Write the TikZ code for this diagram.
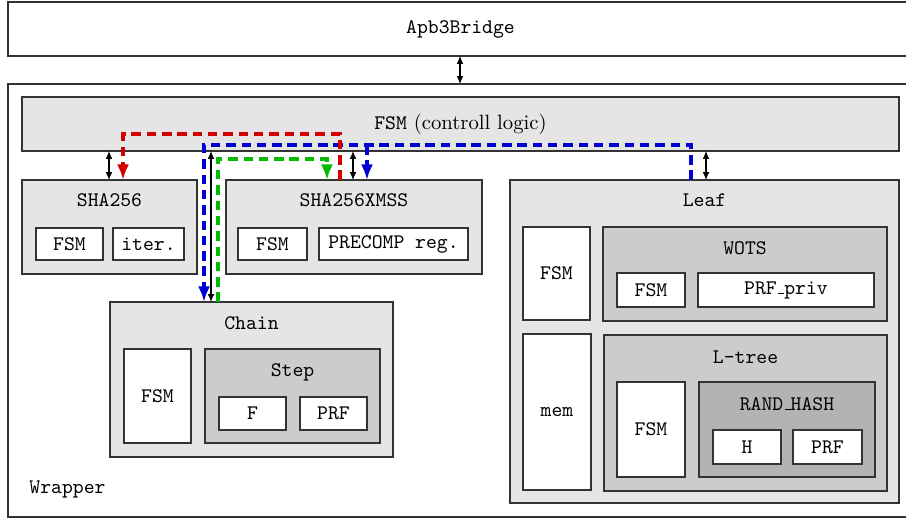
\documentclass[tikz,border=0pt]{standalone}
\usetikzlibrary{arrows.meta}
\definecolor{lvA}{HTML}{E5E5E5}
\definecolor{lvB}{HTML}{CCCCCC}
\definecolor{lvC}{HTML}{B3B3B3}
\definecolor{edgec}{HTML}{333333}
\definecolor{cred}{HTML}{D40000}
\definecolor{cblue}{HTML}{0000D0}
\definecolor{cgreen}{HTML}{00BB00}
\newcommand\drawblk[7]{\node[#1, minimum width={(#4-#2)*0.483pt}, minimum height={(#5-#3)*0.483pt}] (#6) at ({(#2+#4)/2},{(#3+#5)/2}) {#7};}
\newcommand\lowbar{\leavevmode\kern.06em\vbox{\hrule width.3em height .5pt}}
\tikzset{
  base/.style={draw=edgec, line width=0.6pt, rectangle, inner sep=0pt, outer sep=0pt, font=\ttfamily},
  wbox/.style={base, fill=white},
  gA/.style={base, fill=lvA},
  gB/.style={base, fill=lvB},
  gC/.style={base, fill=lvC},
  ttl/.style={font=\ttfamily, inner sep=0pt, anchor=base},
  dbl/.style={{Latex[length=3.8pt,width=3.2pt]}-{Latex[length=3.8pt,width=3.2pt]}, line width=0.5pt, black},
  sig/.style={line width=1.5pt, dash pattern=on 4.6pt off 2.8pt},
  sigarr/.style={sig, -{Latex[length=7.5pt,width=5.8pt]}}
}
\begin{document}
\begin{tikzpicture}[x=0.483pt, y=-0.483pt]
\useasboundingbox (0,0) rectangle (906,519);
% outer boxes
\drawblk{wbox}{8}{2}{913}{56}{apb}{Apb3Bridge}
\drawblk{wbox}{8}{84}{913}{517}{wrap}{}
\node[ttl, anchor=base west] (wraplbl) at (29,493) {Wrapper};
\drawblk{gA, font=\rmfamily}{22}{97}{899}{151}{fsm}{\texttt{FSM} (controll logic)}
% SHA256
\drawblk{gA}{22}{180}{197}{274}{sha}{}
\node[ttl] (shaT) at (109.5,206.5) {SHA256};
\drawblk{wbox}{36}{228}{103}{260}{shaFsm}{FSM}
\drawblk{wbox}{113}{228}{184}{260}{shaIter}{iter.}
% SHA256XMSS
\drawblk{gA}{226}{180}{482}{274}{xmss}{}
\node[ttl] (xmssT) at (354,206.5) {SHA256XMSS};
\drawblk{wbox}{238}{228}{307}{260}{xmssFsm}{FSM}
\drawblk{wbox}{319}{228}{468}{260}{xmssPre}{PRECOMP reg.}
% Chain
\drawblk{gA}{110}{302}{393}{457}{chain}{}
\node[ttl] (chainT) at (251.5,329) {Chain};
\drawblk{wbox}{124}{349}{191}{443}{chainFsm}{FSM}
\drawblk{gB}{205}{349}{380}{443}{step}{}
\node[ttl] (stepT) at (292.5,376) {Step};
\drawblk{wbox}{219}{397}{286}{430}{stepF}{F}
\drawblk{wbox}{300}{397}{367}{430}{stepPrf}{PRF}
% Leaf
\drawblk{gA}{510}{180}{899}{503}{leaf}{}
\node[ttl] (leafT) at (704.5,206.5) {Leaf};
\drawblk{wbox}{523}{227}{590}{320}{leafFsm}{FSM}
\drawblk{gB}{603}{227}{887}{321}{wots}{}
\node[ttl] (wotsT) at (745,254) {WOTS};
\drawblk{wbox}{617}{273}{685}{307}{wotsFsm}{FSM}
\drawblk{wbox}{698}{273}{874}{307}{wotsPrf}{PRF\lowbar priv}
\drawblk{wbox}{523}{334}{591}{490}{mem}{mem}
\drawblk{gB}{604}{335}{887}{491}{ltree}{}
\node[ttl] (ltreeT) at (745.5,363) {L-tree};
\drawblk{wbox}{617}{382}{685}{477}{ltFsm}{FSM}
\drawblk{gC}{699}{382}{875}{477}{rh}{}
\node[ttl] (rhT) at (787,410) {RAND\lowbar HASH};
\drawblk{wbox}{713}{430}{781}{464}{rhH}{H}
\drawblk{wbox}{793}{430}{862}{464}{rhPrf}{PRF}
% helper coordinates
\coordinate (a0) at (460,0);
\coordinate (a1) at (109,0);
\coordinate (a2) at (353,0);
\coordinate (a3) at (211,0);
\coordinate (a4) at (706,0);
\coordinate (r1) at (340,134);
\coordinate (r2) at (123,134);
\coordinate (b1) at (691,145);
\coordinate (b2) at (204,145);
\coordinate (b3) at (367,145);
\coordinate (g1) at (218,159);
\coordinate (g2) at (327,159);
% black bidirectional connectors
\draw[dbl] (apb.south -| a0) -- (wrap.north -| a0);
\draw[dbl] (fsm.south -| a1) -- (sha.north -| a1);
\draw[dbl] (fsm.south -| a2) -- (xmss.north -| a2);
\draw[dbl] (fsm.south -| a3) -- (chain.north -| a3);
\draw[dbl] (fsm.south -| a4) -- (leaf.north -| a4);
% coloured signals
\draw[sigarr, cblue] (leaf.north -| b1) -- (b1) -- (b2) -- (chain.north -| b2);
\draw[sigarr, cblue] (b3) -- (xmss.north -| b3);
\draw[sigarr, cgreen] (chain.north -| g1) -- (g1) -- (g2) -- (xmss.north -| g2);
\draw[sigarr, cred] (xmss.north -| r1) -- (r1) -- (r2) -- (sha.north -| r2);
\end{tikzpicture}
\end{document}
